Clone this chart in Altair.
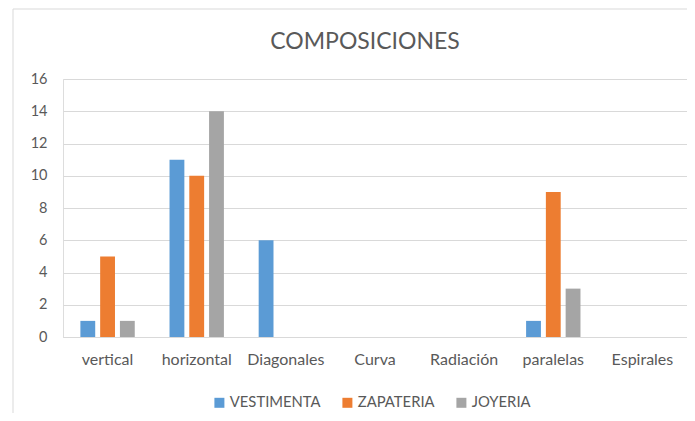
import altair as alt
import pandas as pd

categories = ["vertical", "horizontal", "Diagonales", "Curva", "Radiación", "paralelas", "Espirales"]
series = ["VESTIMENTA", "ZAPATERIA", "JOYERIA"]
vestimenta = [1, 11, 6, 0, 0, 1, 0]
zapateria = [5, 10, 0, 0, 0, 9, 0]
joyeria = [1, 14, 0, 0, 0, 3, 0]
colors = ["#5B9BD5", "#ED7D31", "#A5A5A5"]
title_text = "COMPOSICIONES"

rows = []
for name, vals in zip(series, [vestimenta, zapateria, joyeria]):
    for c, v in zip(categories, vals):
        rows.append({"cat": c, "serie": name, "valor": v})
df = pd.DataFrame(rows)

FONT = "Lato"
TXT = "#595959"

bars = alt.Chart(df).mark_bar().encode(
    x=alt.X("cat:N", sort=categories, title=None,
            scale=alt.Scale(paddingInner=0.39, paddingOuter=0.195),
            axis=alt.Axis(labelAngle=0, ticks=False, domainColor="#D9D9D9",
                          labelPadding=14, labelFontSize=16, labelColor=TXT,
                          labelFont=FONT)),
    xOffset=alt.XOffset("serie:N", sort=series,
                        scale=alt.Scale(paddingInner=0.25, paddingOuter=0)),
    y=alt.Y("valor:Q", title=None,
            scale=alt.Scale(domain=[0, 16]),
            axis=alt.Axis(values=[0, 2, 4, 6, 8, 10, 12, 14, 16], ticks=False,
                          domain=False, gridColor="#D9D9D9", labelPadding=16,
                          labelFontSize=14.5, labelColor=TXT, labelFont=FONT)),
    color=alt.Color("serie:N", sort=series,
                    scale=alt.Scale(domain=series, range=colors),
                    legend=alt.Legend(title=None, orient="none", direction="horizontal",
                                      legendX=149, legendY=316, symbolType="square",
                                      symbolSize=100, symbolStrokeWidth=0,
                                      labelFontSize=14.8, labelColor=TXT, labelFont=FONT,
                                      columnPadding=19, labelOffset=3)),
)

frame = alt.Chart(pd.DataFrame({"k": [0]})).mark_rect(
    fill=None, stroke="#D9D9D9", strokeWidth=1
).encode(x=alt.value(-50), x2=alt.value(700), y=alt.value(-70), y2=alt.value(400))

title = alt.Chart(pd.DataFrame({"t": [title_text]})).mark_text(
    font=FONT, fontSize=23, color=TXT, align="center", baseline="middle"
).encode(text="t:N", x=alt.value(302), y=alt.value(-37))

chart = alt.layer(frame, bars, title).properties(
    width=624, height=258,
    autosize=alt.AutoSizeParams(type="none"),
    padding={"left": 55, "top": 71, "right": 0, "bottom": 76},
).configure_view(stroke=None).configure(background="white")

chart.save("out.html", embed_options={"renderer": "svg", "actions": False})
